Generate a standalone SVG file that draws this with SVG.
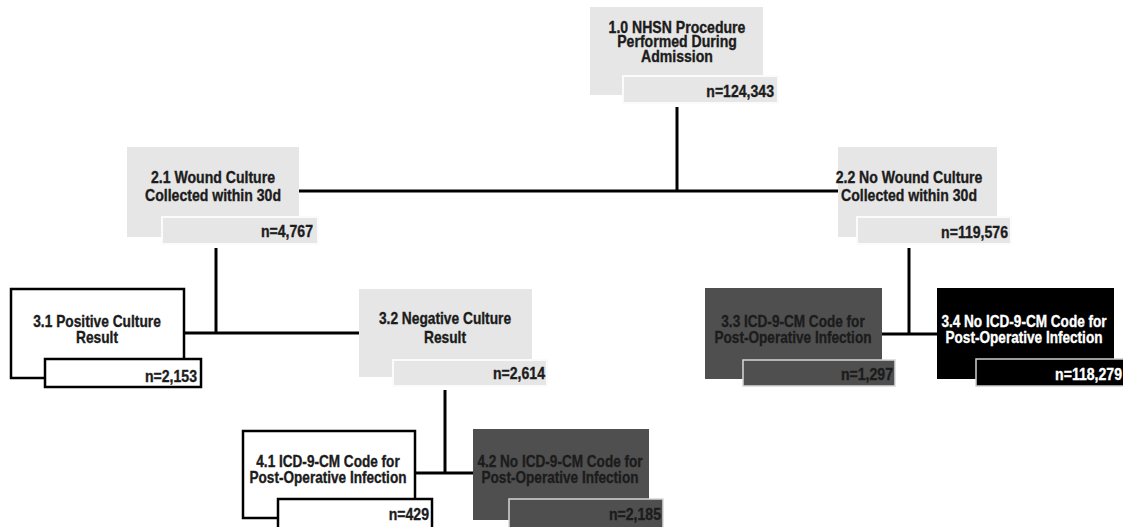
<svg xmlns="http://www.w3.org/2000/svg" width="1123" height="527" viewBox="0 0 1123 527">
<style>
text{font-family:"Liberation Sans",Arial,sans-serif;font-weight:bold;font-size:16px;stroke-width:0.35px}
.c{text-anchor:middle}
.r{text-anchor:end}
.lg{fill:#e6e6e6}
.lgn{fill:#e6e6e6;stroke:#fbfbfb;stroke-width:2}
.wh{fill:#fff;stroke:#000;stroke-width:2.5}
.dg{fill:#4f4f4f}
.dgn{fill:#4f4f4f;stroke:#d8d8d8;stroke-width:1.5}
.bk{fill:#000}
.bkn{fill:#000;stroke:#cfcfcf;stroke-width:1.5}
.t{fill:#1c1c1c;stroke:#1c1c1c}
.tw{fill:#fff;stroke:#fff}
.conn line{stroke:#000;stroke-width:3}
</style>
<g id="connectors" class="conn">
<line x1="677" y1="107" x2="677" y2="192"/>
<line x1="299" y1="191" x2="839" y2="191"/>
<line x1="216" y1="248" x2="216" y2="334"/>
<line x1="184" y1="333" x2="360" y2="333"/>
<line x1="445" y1="390" x2="445" y2="474"/>
<line x1="415" y1="473" x2="474" y2="473"/>
<line x1="909" y1="248" x2="909" y2="335"/>
<line x1="882" y1="334" x2="938" y2="334"/>
</g>
<g id="n1_0">
<rect class="lg" x="590" y="7" width="173" height="88"/>
<rect class="lgn" x="623" y="76" width="155" height="27"/>
<text class="c t" transform="translate(677,33) scale(0.88,1)">1.0 NHSN Procedure</text>
<text class="c t" transform="translate(677,47) scale(0.88,1)">Performed During</text>
<text class="c t" transform="translate(677,61.5) scale(0.88,1)">Admission</text>
<text class="r t" transform="translate(774,97) scale(0.88,1)">n=124,343</text>
</g>
<g id="n2_1">
<rect class="lg" x="127" y="147" width="172" height="90"/>
<rect class="lgn" x="162" y="217" width="156" height="27"/>
<text class="c t" transform="translate(213,183) scale(0.88,1)">2.1 Wound Culture</text>
<text class="c t" transform="translate(213,201) scale(0.88,1)">Collected within 30d</text>
<text class="r t" transform="translate(313,237) scale(0.88,1)">n=4,767</text>
</g>
<g id="n2_2">
<rect class="lg" x="838" y="147" width="159" height="90"/>
<rect class="lgn" x="857" y="217" width="154" height="27"/>
<text class="c t" transform="translate(909,183) scale(0.88,1)">2.2 No Wound Culture</text>
<text class="c t" transform="translate(909,201) scale(0.88,1)">Collected within 30d</text>
<text class="r t" transform="translate(1008,238) scale(0.88,1)">n=119,576</text>
</g>
<g id="n3_1">
<rect class="wh" x="11" y="289" width="173" height="89"/>
<rect class="wh" x="45" y="359" width="156" height="28"/>
<text class="c t" transform="translate(97,327) scale(0.86,1)">3.1 Positive Culture</text>
<text class="c t" transform="translate(97,342.5) scale(0.86,1)">Result</text>
<text class="r t" transform="translate(197,382) scale(0.88,1)">n=2,153</text>
</g>
<g id="n3_2">
<rect class="lg" x="359" y="289" width="173" height="88"/>
<rect class="lgn" x="393" y="360" width="154" height="26"/>
<text class="c t" transform="translate(445,324) scale(0.86,1)">3.2 Negative Culture</text>
<text class="c t" transform="translate(445,343) scale(0.86,1)">Result</text>
<text class="r t" transform="translate(545,379) scale(0.88,1)">n=2,614</text>
</g>
<g id="n3_3">
<rect class="dg" x="705" y="288" width="177" height="91"/>
<rect class="dgn" x="743" y="360" width="152" height="26"/>
<text class="c t" transform="translate(793,327) scale(0.85,1)">3.3 ICD-9-CM Code for</text>
<text class="c t" transform="translate(793,342.5) scale(0.85,1)">Post-Operative Infection</text>
<text class="r t" transform="translate(893,380) scale(0.88,1)">n=1,297</text>
</g>
<g id="n3_4">
<rect class="bk" x="937" y="288" width="177" height="91"/>
<rect class="bkn" x="976" y="359" width="150" height="27"/>
<text class="c tw" transform="translate(1024,327) scale(0.85,1)">3.4 No ICD-9-CM Code for</text>
<text class="c tw" transform="translate(1024,342.5) scale(0.85,1)">Post-Operative Infection</text>
<text class="r tw" transform="translate(1122,380) scale(0.88,1)">n=118,279</text>
</g>
<g id="n4_1">
<rect class="wh" x="243" y="431" width="172" height="87"/>
<rect class="wh" x="278" y="499" width="154" height="30"/>
<text class="c t" transform="translate(328,467) scale(0.85,1)">4.1 ICD-9-CM Code for</text>
<text class="c t" transform="translate(328,483) scale(0.85,1)">Post-Operative Infection</text>
<text class="r t" transform="translate(429,520) scale(0.88,1)">n=429</text>
</g>
<g id="n4_2">
<rect class="dg" x="473" y="429" width="176" height="91"/>
<rect class="dgn" x="509" y="499" width="154" height="30"/>
<text class="c t" transform="translate(560,467) scale(0.85,1)">4.2 No ICD-9-CM Code for</text>
<text class="c t" transform="translate(560,483) scale(0.85,1)">Post-Operative Infection</text>
<text class="r t" transform="translate(661,520) scale(0.88,1)">n=2,185</text>
</g>
</svg>
